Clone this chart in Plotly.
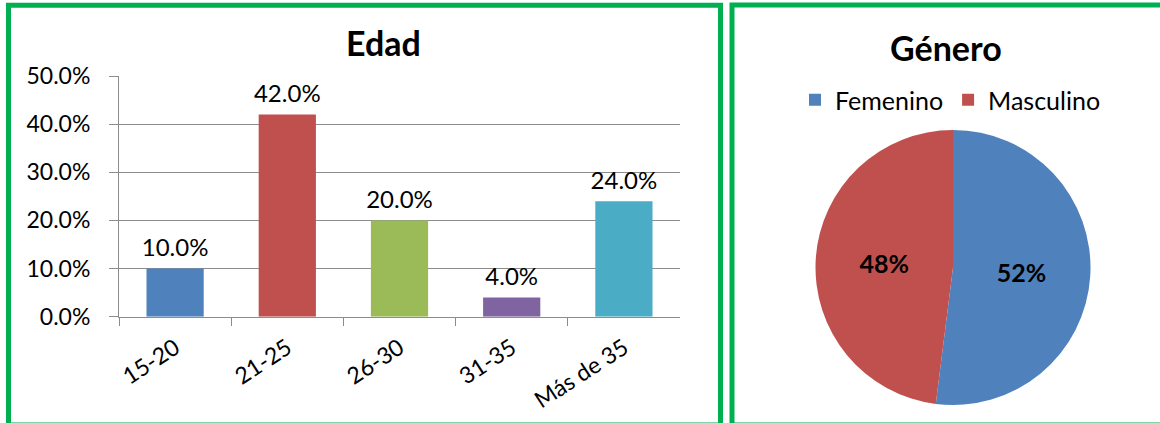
import plotly.graph_objects as go

W, H = 1160, 423

# ---- data ----
age_groups = ["15-20", "21-25", "26-30", "31-35", "Más de 35"]
age_share = [0.10, 0.42, 0.20, 0.04, 0.24]
age_colors = ["#4F81BD", "#C0504D", "#9BBB59", "#8064A2", "#4BACC6"]

gender_labels = ["Femenino", "Masculino"]
gender_share = [52, 48]
gender_colors = ["#4F81BD", "#C0504D"]

FONT = "Lato"

def px(x):
    return x / W

def py(y):
    return 1 - y / H

fig = go.Figure()

fig.add_trace(go.Bar(
    x=age_groups, y=age_share,
    marker=dict(color=age_colors, line=dict(width=0)),
    showlegend=False, xaxis="x", yaxis="y", hoverinfo="skip",
))

# data labels above bars (invisible markers give the label offset)
fig.add_trace(go.Scatter(
    x=age_groups, y=age_share, mode="markers+text",
    marker=dict(size=9, color="rgba(0,0,0,0)"),
    text=[f"{v*100:.1f}%" for v in age_share],
    textposition="top center", cliponaxis=False,
    textfont=dict(family=FONT, size=24, color="#000000"),
    showlegend=False, xaxis="x", yaxis="y", hoverinfo="skip",
))

fig.add_trace(go.Pie(
    labels=gender_labels, values=gender_share,
    marker=dict(colors=gender_colors, line=dict(width=0)),
    sort=False, direction="clockwise", rotation=0,
    textinfo="percent", texttemplate="<b>%{percent:.0%}</b>",
    textposition="inside", insidetextorientation="horizontal",
    textfont=dict(family=FONT, size=25, color="#000000"),
    domain=dict(x=[px(815), px(1091)], y=[py(405), py(130)]),
    showlegend=True,
))

grid = "#8C8C8C"
fig.update_layout(
    width=W, height=H,
    margin=dict(l=0, r=0, t=0, b=0, pad=0, autoexpand=False),
    paper_bgcolor="white", plot_bgcolor="white",
    font=dict(family=FONT, size=23, color="#000000"),
    bargap=0.49,
    xaxis=dict(
        domain=[px(119), px(680)], anchor="y",
        type="category", tickson="boundaries",
        ticks="outside", ticklen=8, tickcolor=grid, tickwidth=1,
        ticklabelstandoff=8,
        showline=True, linecolor=grid, linewidth=1,
        tickangle=-33, tickfont=dict(family=FONT, size=23),
        showgrid=False, automargin=False,
    ),
    yaxis=dict(
        domain=[py(316.7), py(76)], anchor="x",
        range=[0, 0.5], dtick=0.1, tickformat=".1%",
        ticks="outside", ticklen=9, tickcolor=grid, tickwidth=1,
        ticklabelstandoff=14,
        showline=True, linecolor=grid, linewidth=1,
        showgrid=True, gridcolor=grid, gridwidth=1,
        zeroline=False, tickfont=dict(family=FONT, size=23), automargin=False,
    ),
    legend=dict(
        orientation="h", x=px(795), xanchor="left", y=py(100), yanchor="middle",
        font=dict(family=FONT, size=25), bgcolor="rgba(0,0,0,0)",
        itemwidth=30, traceorder="normal",
    ),
    annotations=[
        dict(text="<b>Edad</b>", x=px(383), y=py(42), xref="paper", yref="paper",
             xanchor="center", yanchor="middle",
             showarrow=False, font=dict(family=FONT, size=34)),
        dict(text="<b>Género</b>", x=px(946), y=py(47), xref="paper", yref="paper",
             xanchor="center", yanchor="middle",
             showarrow=False, font=dict(family=FONT, size=34)),
    ],
    shapes=[
        dict(type="rect", xref="paper", yref="paper",
             x0=px(8.5), x1=px(720.5), y0=py(5.2), y1=py(425),
             line=dict(color="#00B050", width=5), fillcolor="rgba(0,0,0,0)"),
        dict(type="rect", xref="paper", yref="paper",
             x0=px(732), x1=px(1170), y0=py(5), y1=py(425),
             line=dict(color="#00B050", width=5), fillcolor="rgba(0,0,0,0)"),
    ],
)

fig.write_html(
    "out.html",
    config={"displayModeBar": False},
    post_script="document.body.style.margin='0';document.body.style.overflow='hidden';",
)
